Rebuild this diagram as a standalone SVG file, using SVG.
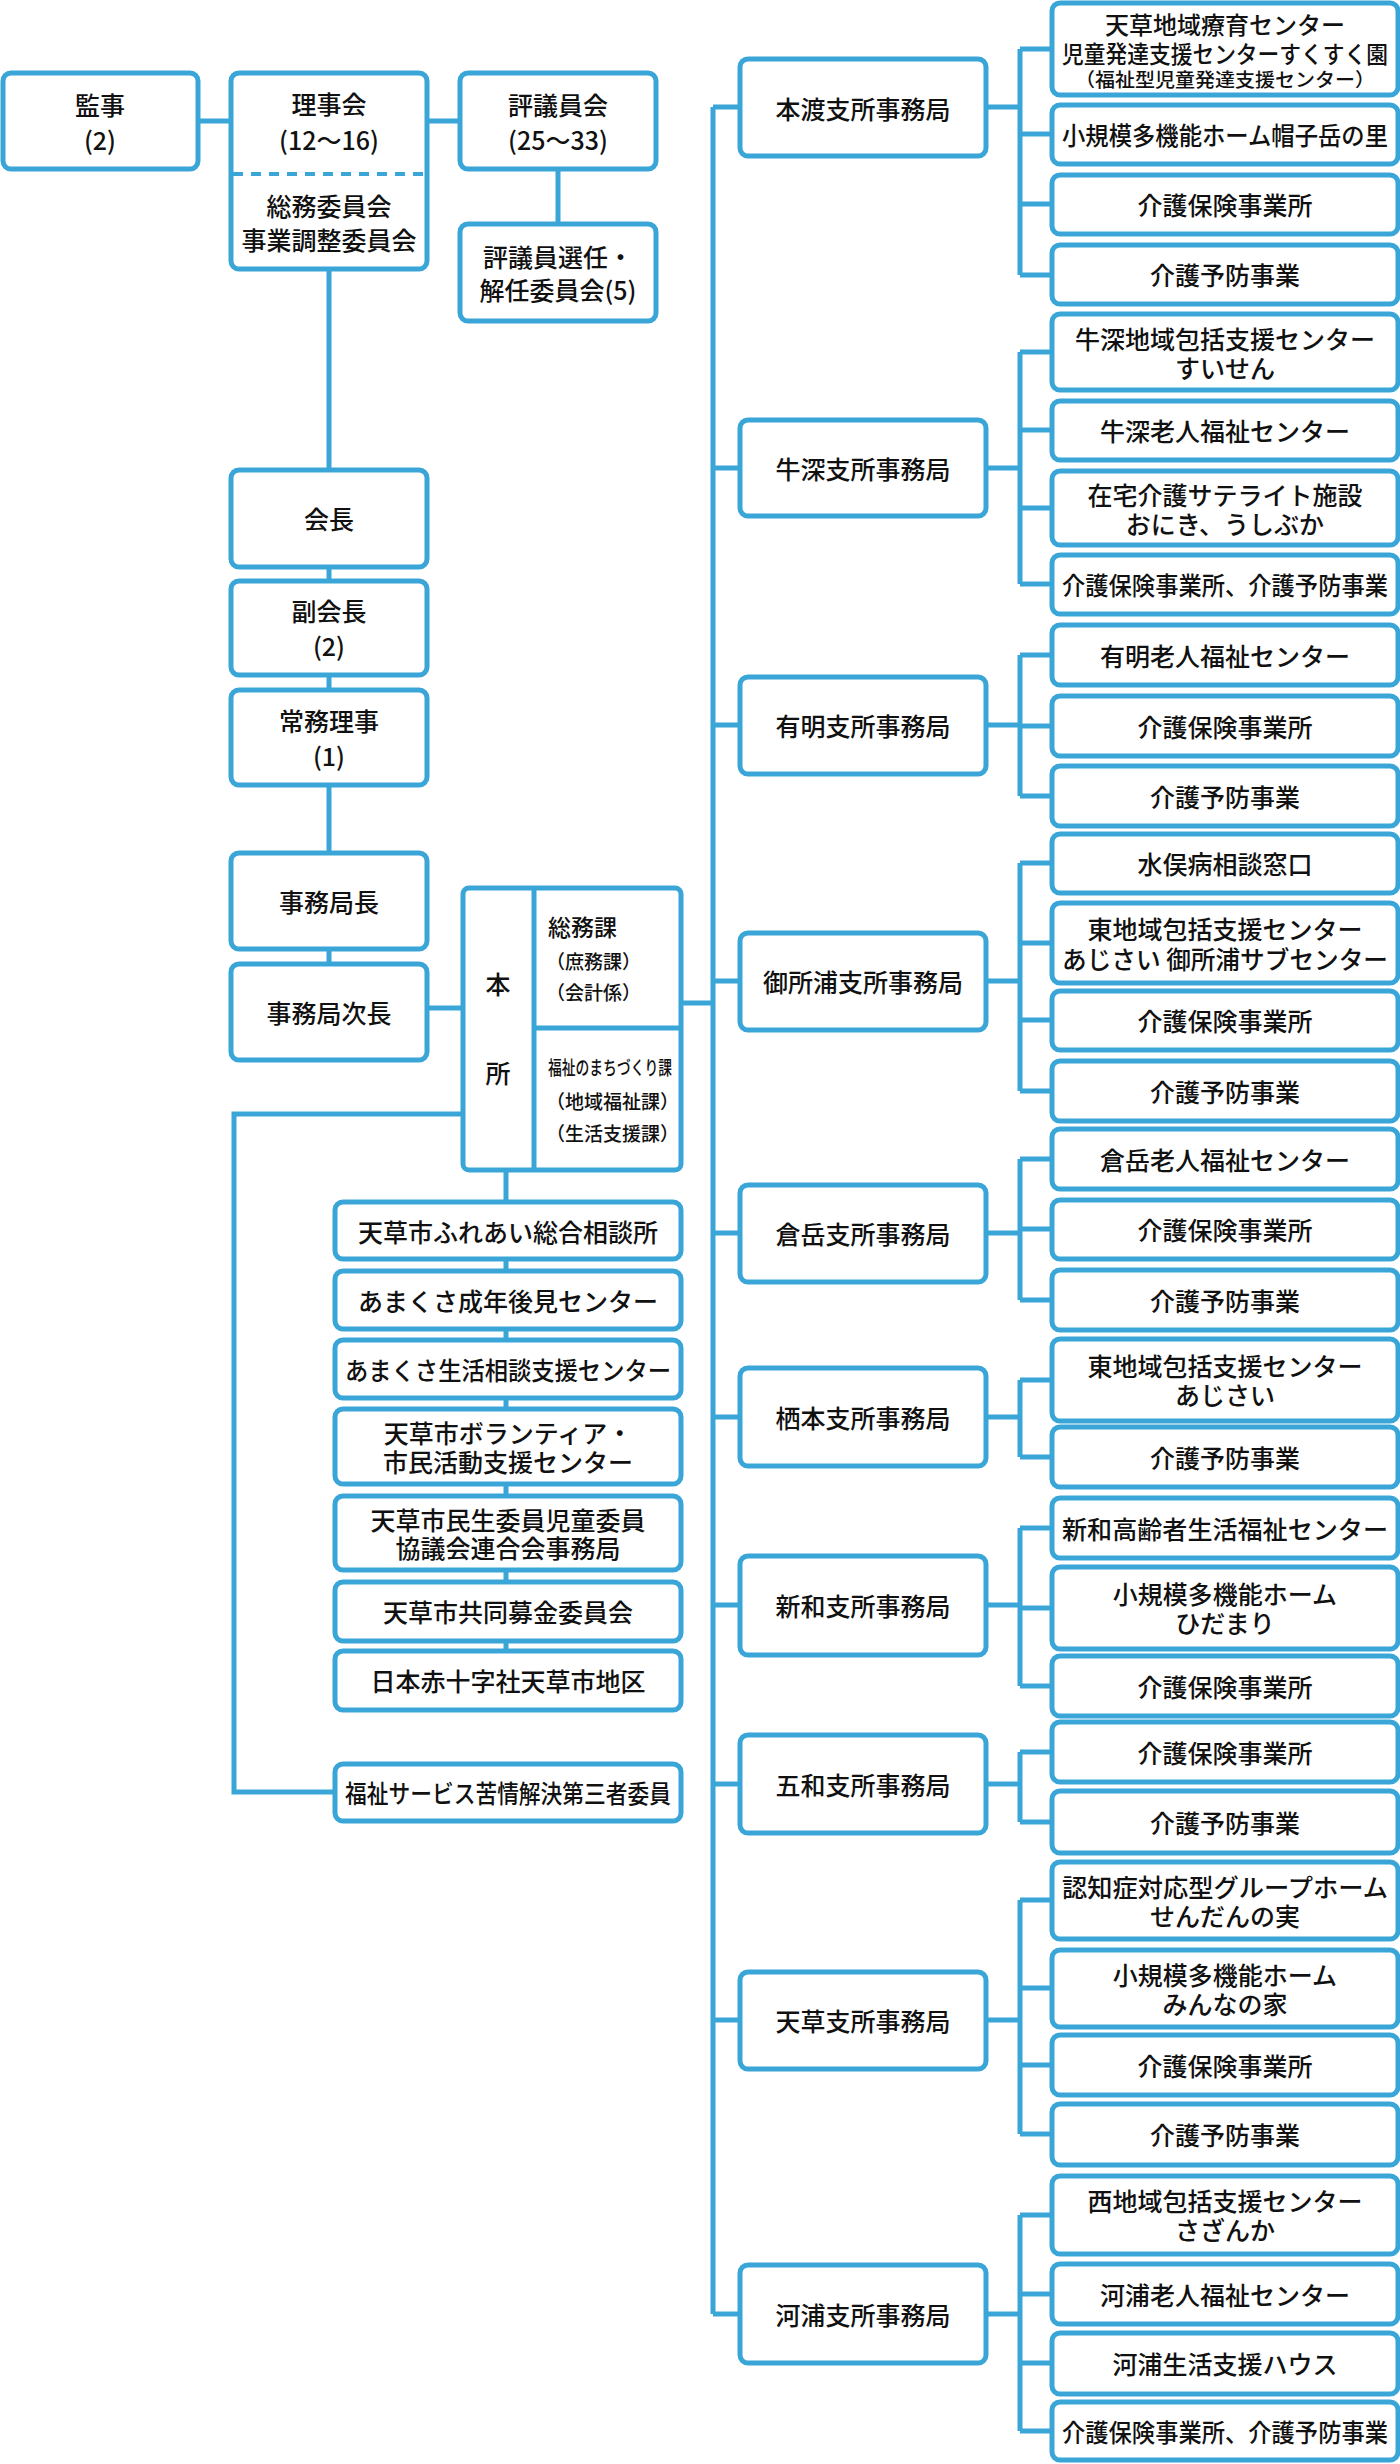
<svg xmlns="http://www.w3.org/2000/svg" width="1400" height="2464" viewBox="0 0 1400 2464">
<style>
.b{fill:#fff;stroke:#3aa6d8;stroke-width:5}
.c{fill:none;stroke:#3aa6d8;stroke-width:5}
text{font-family:"Noto Sans CJK JP","Noto Sans",sans-serif;font-weight:500;fill:#111;font-size:25px;text-anchor:middle;dominant-baseline:central}
.s{font-size:19px}
.l{text-anchor:start}
</style>
<rect width="1400" height="2464" fill="#fff"/>
<g id="connectors" class="c">
<path d="M198 121H231M427 121H460M558 169V224M329 269V964M428 1008H463M681 1003H713M463 1114H234V1792H335M506 1170V1710M713 107V2314"/>
<path d="M713 107H740M986 107H1020M1020 49V275M1020 49H1052M1020 134H1052M1020 204H1052M1020 275H1052"/>
<path d="M713 468H740M986 468H1020M1020 352V584M1020 352H1052M1020 430H1052M1020 508H1052M1020 584H1052"/>
<path d="M713 725H740M986 725H1020M1020 655V796M1020 655H1052M1020 726H1052M1020 796H1052"/>
<path d="M713 981H740M986 981H1020M1020 863V1091M1020 863H1052M1020 943H1052M1020 1020H1052M1020 1091H1052"/>
<path d="M713 1233H740M986 1233H1020M1020 1159V1300M1020 1159H1052M1020 1229H1052M1020 1300H1052"/>
<path d="M713 1417H740M986 1417H1020M1020 1380V1457M1020 1380H1052M1020 1457H1052"/>
<path d="M713 1605H740M986 1605H1020M1020 1528V1686M1020 1528H1052M1020 1608H1052M1020 1686H1052"/>
<path d="M713 1784H740M986 1784H1020M1020 1752V1822M1020 1752H1052M1020 1822H1052"/>
<path d="M713 2020H740M986 2020H1020M1020 1900V2134M1020 1900H1052M1020 1988H1052M1020 2065H1052M1020 2134H1052"/>
<path d="M713 2314H740M986 2314H1020M1020 2215V2431M1020 2215H1052M1020 2294H1052M1020 2363H1052M1020 2431H1052"/>
</g>
<g id="kanji"><rect class="b" x="3" y="73" width="195" height="96" rx="8"/><text x="100" y="104">監事</text><text x="100" y="139">(2)</text></g>
<g id="rijikai"><rect class="b" x="231" y="73" width="196" height="196" rx="8"/><line x1="233" y1="174" x2="425" y2="174" stroke="#3aa6d8" stroke-width="4" stroke-dasharray="10 8"/><text x="329" y="103">理事会</text><text x="329" y="139">(12〜16)</text><text x="329" y="205">総務委員会</text><text x="329" y="239">事業調整委員会</text></g>
<g id="hyogiinkai"><rect class="b" x="460" y="73" width="196" height="96" rx="8"/><text x="558" y="104">評議員会</text><text x="558" y="139">(25〜33)</text></g>
<g id="senin"><rect class="b" x="460" y="224" width="196" height="97" rx="8"/><text x="558" y="256">評議員選任・</text><text x="558" y="289">解任委員会(5)</text></g>
<g id="kaicho"><rect class="b" x="231" y="470" width="196" height="97" rx="8"/><text x="329" y="518">会長</text></g>
<g id="fukukaicho"><rect class="b" x="231" y="581" width="196" height="94" rx="8"/><text x="329" y="610">副会長</text><text x="329" y="645">(2)</text></g>
<g id="jomu"><rect class="b" x="231" y="690" width="196" height="95" rx="8"/><text x="329" y="720">常務理事</text><text x="329" y="755">(1)</text></g>
<g id="jimukyokucho"><rect class="b" x="231" y="853" width="196" height="96" rx="8"/><text x="329" y="901">事務局長</text></g>
<g id="jicho"><rect class="b" x="231" y="964" width="196" height="96" rx="8"/><text x="329" y="1012">事務局次長</text></g>
<g id="honsho"><rect class="b" x="463" y="888" width="218" height="282" rx="6"/><path class="c" d="M534 888V1170M534 1028H681"/><text x="498" y="983">本</text><text x="498" y="1072">所</text>
<text class="l" x="548" y="926" style="font-size:23px">総務課</text><text class="l s" x="546" y="960">（庶務課）</text><text class="l s" x="546" y="991">（会計係）</text>
<text class="l s" x="548" y="1066" textLength="124" lengthAdjust="spacingAndGlyphs">福祉のまちづくり課</text><text class="l s" x="546" y="1100">（地域福祉課）</text><text class="l s" x="546" y="1132">（生活支援課）</text></g>
<g id="s1"><rect class="b" x="335" y="1202" width="346" height="57" rx="8"/><text x="508" y="1231">天草市ふれあい総合相談所</text></g>
<g id="s2"><rect class="b" x="335" y="1271" width="346" height="58" rx="8"/><text x="508" y="1300">あまくさ成年後見センター</text></g>
<g id="s3"><rect class="b" x="335" y="1340" width="346" height="58" rx="8"/><text x="508" y="1369" textLength="326" lengthAdjust="spacingAndGlyphs">あまくさ生活相談支援センター</text></g>
<g id="s4"><rect class="b" x="335" y="1409" width="346" height="75" rx="8"/><text x="508" y="1432">天草市ボランティア・</text><text x="508" y="1461">市民活動支援センター</text></g>
<g id="s5"><rect class="b" x="335" y="1496" width="346" height="74" rx="8"/><text x="508" y="1519">天草市民生委員児童委員</text><text x="508" y="1547">協議会連合会事務局</text></g>
<g id="s6"><rect class="b" x="335" y="1582" width="346" height="59" rx="8"/><text x="508" y="1611">天草市共同募金委員会</text></g>
<g id="s7"><rect class="b" x="335" y="1651" width="346" height="59" rx="8"/><text x="508" y="1680">日本赤十字社天草市地区</text></g>
<g id="s8"><rect class="b" x="335" y="1764" width="346" height="57" rx="8"/><text x="508" y="1792" textLength="326" lengthAdjust="spacingAndGlyphs">福祉サービス苦情解決第三者委員</text></g>

<g id="hondo"><rect class="b" x="740" y="59" width="246" height="97" rx="8"/><text x="863" y="108">本渡支所事務局</text></g>
<g id="hondo1"><rect class="b" x="1052" y="3" width="346" height="92" rx="8"/><text x="1225" y="23" style="font-size:24px">天草地域療育センター</text><text x="1225" y="52" textLength="326" lengthAdjust="spacingAndGlyphs" style="font-size:24px">児童発達支援センターすくすく園</text><text class="s" x="1225" y="78" textLength="300" lengthAdjust="spacingAndGlyphs">（福祉型児童発達支援センター）</text></g>
<g id="hondo2"><rect class="b" x="1052" y="105" width="346" height="59" rx="8"/><text x="1225" y="134" textLength="326" lengthAdjust="spacingAndGlyphs">小規模多機能ホーム帽子岳の里</text></g>
<g id="hondo3"><rect class="b" x="1052" y="175" width="346" height="59" rx="8"/><text x="1225" y="204">介護保険事業所</text></g>
<g id="hondo4"><rect class="b" x="1052" y="245" width="346" height="59" rx="8"/><text x="1225" y="274">介護予防事業</text></g>

<g id="ushibuka"><rect class="b" x="740" y="420" width="246" height="96" rx="8"/><text x="863" y="468">牛深支所事務局</text></g>
<g id="u1"><rect class="b" x="1052" y="314" width="346" height="76" rx="8"/><text x="1225" y="338">牛深地域包括支援センター</text><text x="1225" y="367">すいせん</text></g>
<g id="u2"><rect class="b" x="1052" y="401" width="346" height="59" rx="8"/><text x="1225" y="430">牛深老人福祉センター</text></g>
<g id="u3"><rect class="b" x="1052" y="471" width="346" height="74" rx="8"/><text x="1225" y="494">在宅介護サテライト施設</text><text x="1225" y="523">おにき、うしぶか</text></g>
<g id="u4"><rect class="b" x="1052" y="555" width="346" height="59" rx="8"/><text x="1225" y="584" textLength="326" lengthAdjust="spacingAndGlyphs">介護保険事業所、介護予防事業</text></g>

<g id="ariake"><rect class="b" x="740" y="677" width="246" height="97" rx="8"/><text x="863" y="725">有明支所事務局</text></g>
<g id="a1"><rect class="b" x="1052" y="625" width="346" height="60" rx="8"/><text x="1225" y="655">有明老人福祉センター</text></g>
<g id="a2"><rect class="b" x="1052" y="696" width="346" height="60" rx="8"/><text x="1225" y="726">介護保険事業所</text></g>
<g id="a3"><rect class="b" x="1052" y="766" width="346" height="60" rx="8"/><text x="1225" y="796">介護予防事業</text></g>

<g id="goshoura"><rect class="b" x="740" y="933" width="246" height="97" rx="8"/><text x="863" y="981">御所浦支所事務局</text></g>
<g id="g1"><rect class="b" x="1052" y="834" width="346" height="59" rx="8"/><text x="1225" y="863">水俣病相談窓口</text></g>
<g id="g2"><rect class="b" x="1052" y="903" width="346" height="80" rx="8"/><text x="1225" y="928">東地域包括支援センター</text><text x="1225" y="958" textLength="326" lengthAdjust="spacingAndGlyphs">あじさい 御所浦サブセンター</text></g>
<g id="g3"><rect class="b" x="1052" y="991" width="346" height="59" rx="8"/><text x="1225" y="1020">介護保険事業所</text></g>
<g id="g4"><rect class="b" x="1052" y="1061" width="346" height="60" rx="8"/><text x="1225" y="1091">介護予防事業</text></g>

<g id="kuradake"><rect class="b" x="740" y="1185" width="246" height="97" rx="8"/><text x="863" y="1233">倉岳支所事務局</text></g>
<g id="k1"><rect class="b" x="1052" y="1129" width="346" height="60" rx="8"/><text x="1225" y="1159">倉岳老人福祉センター</text></g>
<g id="k2"><rect class="b" x="1052" y="1200" width="346" height="59" rx="8"/><text x="1225" y="1229">介護保険事業所</text></g>
<g id="k3"><rect class="b" x="1052" y="1270" width="346" height="60" rx="8"/><text x="1225" y="1300">介護予防事業</text></g>

<g id="sumoto"><rect class="b" x="740" y="1368" width="246" height="98" rx="8"/><text x="863" y="1417">栖本支所事務局</text></g>
<g id="sm1"><rect class="b" x="1052" y="1339" width="346" height="82" rx="8"/><text x="1225" y="1365">東地域包括支援センター</text><text x="1225" y="1394">あじさい</text></g>
<g id="sm2"><rect class="b" x="1052" y="1427" width="346" height="60" rx="8"/><text x="1225" y="1457">介護予防事業</text></g>

<g id="shinwa"><rect class="b" x="740" y="1556" width="246" height="99" rx="8"/><text x="863" y="1605">新和支所事務局</text></g>
<g id="sh1"><rect class="b" x="1052" y="1498" width="346" height="60" rx="8"/><text x="1225" y="1528" textLength="326" lengthAdjust="spacingAndGlyphs">新和高齢者生活福祉センター</text></g>
<g id="sh2"><rect class="b" x="1052" y="1567" width="346" height="82" rx="8"/><text x="1225" y="1593">小規模多機能ホーム</text><text x="1225" y="1622">ひだまり</text></g>
<g id="sh3"><rect class="b" x="1052" y="1656" width="346" height="60" rx="8"/><text x="1225" y="1686">介護保険事業所</text></g>

<g id="itsuwa"><rect class="b" x="740" y="1735" width="246" height="98" rx="8"/><text x="863" y="1784">五和支所事務局</text></g>
<g id="i1"><rect class="b" x="1052" y="1722" width="346" height="60" rx="8"/><text x="1225" y="1752">介護保険事業所</text></g>
<g id="i2"><rect class="b" x="1052" y="1791" width="346" height="62" rx="8"/><text x="1225" y="1822">介護予防事業</text></g>

<g id="amakusa"><rect class="b" x="740" y="1972" width="246" height="97" rx="8"/><text x="863" y="2020">天草支所事務局</text></g>
<g id="t1"><rect class="b" x="1052" y="1862" width="346" height="77" rx="8"/><text x="1225" y="1886" textLength="326" lengthAdjust="spacingAndGlyphs">認知症対応型グループホーム</text><text x="1225" y="1915">せんだんの実</text></g>
<g id="t2"><rect class="b" x="1052" y="1950" width="346" height="77" rx="8"/><text x="1225" y="1974">小規模多機能ホーム</text><text x="1225" y="2003">みんなの家</text></g>
<g id="t3"><rect class="b" x="1052" y="2035" width="346" height="60" rx="8"/><text x="1225" y="2065">介護保険事業所</text></g>
<g id="t4"><rect class="b" x="1052" y="2104" width="346" height="61" rx="8"/><text x="1225" y="2134">介護予防事業</text></g>

<g id="kawaura"><rect class="b" x="740" y="2265" width="246" height="98" rx="8"/><text x="863" y="2314">河浦支所事務局</text></g>
<g id="kw1"><rect class="b" x="1052" y="2176" width="346" height="78" rx="8"/><text x="1225" y="2200">西地域包括支援センター</text><text x="1225" y="2229">さざんか</text></g>
<g id="kw2"><rect class="b" x="1052" y="2264" width="346" height="60" rx="8"/><text x="1225" y="2294">河浦老人福祉センター</text></g>
<g id="kw3"><rect class="b" x="1052" y="2333" width="346" height="61" rx="8"/><text x="1225" y="2363">河浦生活支援ハウス</text></g>
<g id="kw4"><rect class="b" x="1052" y="2402" width="346" height="58" rx="8"/><text x="1225" y="2431" textLength="326" lengthAdjust="spacingAndGlyphs">介護保険事業所、介護予防事業</text></g>
</svg>
